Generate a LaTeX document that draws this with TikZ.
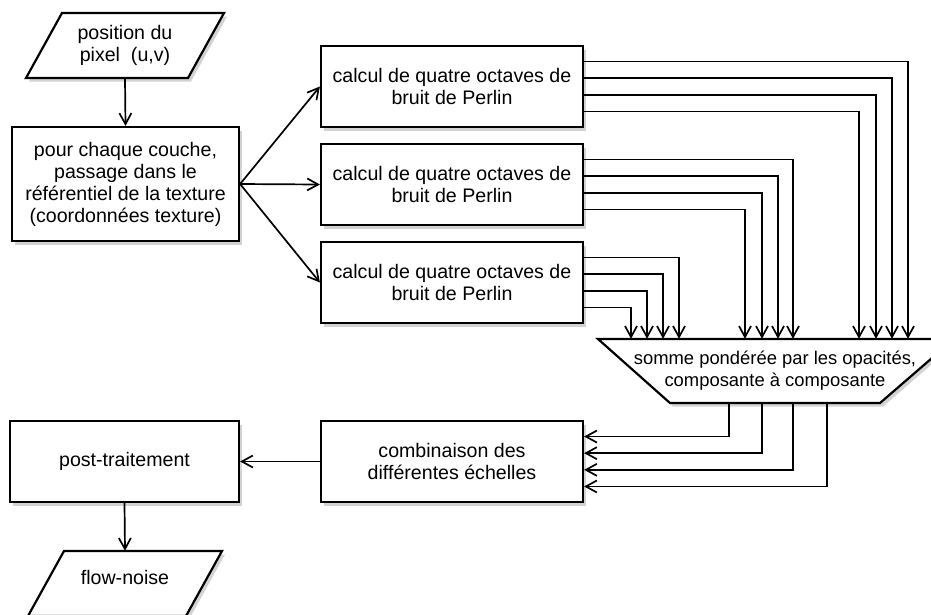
\documentclass[tikz,border=0pt]{standalone}
\usepackage{fontspec}
\setmainfont{Liberation Sans}
\usetikzlibrary{arrows.meta,shadows,calc}
\newcommand\mainfnt{\fontsize{19.6}{22}\selectfont}
\newcommand\sumfnt{\fontsize{18.4}{22}\selectfont}
\begin{document}
\begin{tikzpicture}[x=1pt,y=-1pt,
  shad/.style={drop shadow={shadow xshift=3pt,shadow yshift=-3.5pt,opacity=0.35}},
  box/.style={draw,line width=2.2pt,fill=white,rectangle,inner sep=0pt,align=center,font=\mainfnt,shad},
  txt/.style={inner sep=0pt,align=center,font=\mainfnt},
  shapeline/.style={draw,line width=2.2pt,fill=white,line join=miter,shad},
  arr/.style={line width=1.7pt,-{Straight Barb[length=11pt,width=12pt,line width=1.7pt]}},
  ln/.style={line width=1.7pt}]
\useasboundingbox (0,0) rectangle (931,614);
% input parallelogram
\path[shapeline] (62,13) -- (224,13) -- (188,78) -- (26,78) -- cycle;
\node[txt,minimum width=162pt,minimum height=65pt] (p1) at (125,45.5) {position du\\pixel\ \ (u,v)};
% change of frame
\node[box,minimum width=227pt,minimum height=114pt] (b2) at (125.5,184) {pour chaque couche,\\passage dans le\\référentiel de la texture\\(coordonnées texture)};
% Perlin boxes
\node[box,minimum width=262pt,minimum height=81pt] (b3) at (452,86.5) {calcul de quatre octaves de\\bruit de Perlin};
\node[box,minimum width=262pt,minimum height=81pt] (b4) at (452,184.5) {calcul de quatre octaves de\\bruit de Perlin};
\node[box,minimum width=262pt,minimum height=81pt] (b5) at (452,282.5) {calcul de quatre octaves de\\bruit de Perlin};
% weighted sum trapezoid
\path[shapeline] (598,339) -- (954,339) -- (880,403) -- (670,403) -- cycle;
\node[inner sep=0pt,align=center,font=\sumfnt,minimum width=210pt,minimum height=64pt] (sum) at (775,371) {somme pondérée par les opacités,\\composante à composante};
% combination
\node[box,minimum width=262pt,minimum height=81pt] (comb) at (452,461.5) {combinaison des\\différentes échelles};
% post
\node[box,minimum width=229pt,minimum height=81pt] (post) at (124.5,461.5) {post-traitement};
% output parallelogram
\path[shapeline] (64,551) -- (222,551) -- (186,616) -- (28,616) -- cycle;
\node[txt,minimum width=158pt,minimum height=52pt] (flow) at (125,577) {flow-noise};
% connectors
\draw[arr] (p1.south) -- (b2.north);
\draw[arr] (b2.east) -- (b3.west);
\draw[arr] (b2.east) -- (b4.west);
\draw[arr] (b2.east) -- (b5.west);
% from b3
\draw[arr] ($(b3.north east)!0.2!(b3.south east)$) -| (sum.north -| 908,0);
\draw[arr] ($(b3.north east)!0.4!(b3.south east)$) -| (sum.north -| 892,0);
\draw[arr] ($(b3.north east)!0.6!(b3.south east)$) -| (sum.north -| 876,0);
\draw[arr] ($(b3.north east)!0.8!(b3.south east)$) -| (sum.north -| 859,0);
% from b4
\draw[arr] ($(b4.north east)!0.2!(b4.south east)$) -| (sum.north -| 793,0);
\draw[arr] ($(b4.north east)!0.4!(b4.south east)$) -| (sum.north -| 778,0);
\draw[arr] ($(b4.north east)!0.6!(b4.south east)$) -| (sum.north -| 762,0);
\draw[arr] ($(b4.north east)!0.8!(b4.south east)$) -| (sum.north -| 745,0);
% from b5
\draw[arr] ($(b5.north east)!0.2!(b5.south east)$) -| (sum.north -| 679,0);
\draw[arr] ($(b5.north east)!0.4!(b5.south east)$) -| (sum.north -| 663,0);
\draw[arr] ($(b5.north east)!0.6!(b5.south east)$) -| (sum.north -| 647,0);
\draw[arr] ($(b5.north east)!0.8!(b5.south east)$) -| (sum.north -| 631,0);
% from sum to comb
\draw[arr] (sum.south -| 729,0) |- ($(comb.north east)!0.2!(comb.south east)$);
\draw[arr] (sum.south -| 762,0) |- ($(comb.north east)!0.4!(comb.south east)$);
\draw[arr] (sum.south -| 793,0) |- ($(comb.north east)!0.6!(comb.south east)$);
\draw[arr] (sum.south -| 827,0) |- ($(comb.north east)!0.8!(comb.south east)$);
\draw[arr] (comb.west) -- (post.east);
\draw[arr] (post.south) -- (flow.north);
\end{tikzpicture}
\end{document}
